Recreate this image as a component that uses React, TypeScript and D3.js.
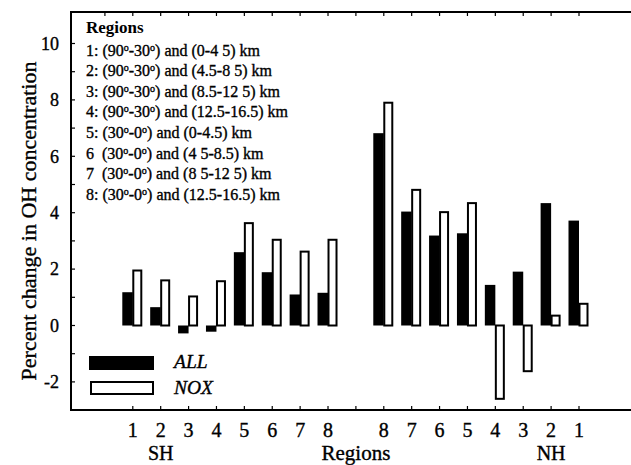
import React from 'react';
import * as d3 from 'd3';

const shRegions = ['1', '2', '3', '4', '5', '6', '7', '8'];
const nhRegions = ['8', '7', '6', '5', '4', '3', '2', '1'];
const allSH = [1.18, 0.65, -0.28, -0.22, 2.6, 1.89, 1.1, 1.16];
const noxSH = [1.95, 1.6, 1.03, 1.57, 3.63, 3.04, 2.62, 3.04];
const allNH = [6.82, 4.04, 3.19, 3.27, 1.44, 1.91, 4.34, 3.72];
const noxNH = [7.9, 4.81, 4.02, 4.34, -2.6, -1.62, 0.35, 0.77];
const yTicks = [-2, 0, 2, 4, 6, 8, 10];
const regionLines = [
  '1: (90°-30°) and (0-4 5) km',
  '2: (90°-30°) and (4.5-8 5) km',
  '3: (90°-30°) and (8.5-12 5) km',
  '4: (90°-30°) and (12.5-16.5) km',
  '5: (30°-0°) and (0-4.5) km',
  '6  (30°-0°) and (4 5-8.5) km',
  '7  (30°-0°) and (8 5-12 5) km',
  '8: (30°-0°) and (12.5-16.5) km',
];

const W = 631;
const H = 465;
const font = 'Liberation Serif, DejaVu Serif, serif';

// one slot per region, with an empty slot between SH and NH
const slots = [
  ...shRegions.map((r, i) => ({ label: r, all: allSH[i], nox: noxSH[i] })),
  null,
  ...nhRegions.map((r, i) => ({ label: r, all: allNH[i], nox: noxNH[i] })),
];

const x = d3.scaleLinear().domain([0, 16]).range([132.8, 579]);
const y = d3.scaleLinear().domain([-2, 10]).range([381.9, 43.5]);

const frame = { left: 71, top: 12, bottom: 410 };
const ink = { stroke: '#000', strokeWidth: 0.35 };

function degreeText(line: string) {
  const parts = line.split('°');
  const out: React.ReactNode[] = [];
  parts.forEach((p, i) => {
    out.push(<tspan key={'p' + i} dy={i === 0 ? 0 : 5}>{p}</tspan>);
    if (i < parts.length - 1) {
      out.push(<tspan key={'d' + i} dy={-5} fontSize={10}>o</tspan>);
    }
  });
  return out;
}

export default function App() {
  const barW = 10.5;
  return (
    <svg width={W} height={H} style={{ position: 'absolute', left: 0, top: 0, background: '#fff', fontFamily: font }}>
      {/* frame */}
      <line x1={frame.left} x2={W} y1={frame.top} y2={frame.top} stroke="#000" strokeWidth={2} />
      <line x1={frame.left} x2={frame.left} y1={frame.top - 1} y2={frame.bottom + 1} stroke="#000" strokeWidth={2} />
      <line x1={frame.left} x2={W} y1={frame.bottom} y2={frame.bottom} stroke="#000" strokeWidth={2} />

      {/* y ticks */}
      {d3.range(-2, 11).map(v => (
        <line key={'yt' + v} x1={frame.left} x2={frame.left + 4} y1={y(v)} y2={y(v)} stroke="#000" strokeWidth={1.2} />
      ))}
      {yTicks.map(v => (
        <text key={'yl' + v} x={59} y={y(v)} dy="0.35em" textAnchor="end" fontSize={18} {...ink}>{v}</text>
      ))}

      {/* x ticks, bottom and top */}
      {d3.range(0, 17).map(k => (
        <line key={'xb' + k} x1={x(k)} x2={x(k)} y1={frame.bottom} y2={frame.bottom - 4} stroke="#000" strokeWidth={1.2} />
      ))}
      {d3.range(-1, 17).map(k => (
        <line key={'xt' + k} x1={x(k)} x2={x(k)} y1={frame.top} y2={frame.top + 4} stroke="#000" strokeWidth={1.2} />
      ))}

      {/* bars */}
      {slots.map((s, k) => s && (
        <g key={'b' + k}>
          <rect x={x(k) - barW} width={barW} y={Math.min(y(s.all), y(0))}
            height={Math.abs(y(s.all) - y(0))} fill="#000" />
          <rect x={x(k) + 0.5} width={8} y={Math.min(y(s.nox), y(0))}
            height={Math.abs(y(s.nox) - y(0))} fill="#fff" stroke="#000" strokeWidth={2} />
        </g>
      ))}

      {/* x labels */}
      {slots.map((s, k) => s && (
        <text key={'xl' + k} x={x(k)} y={437} textAnchor="middle" fontSize={20} {...ink}>{s.label}</text>
      ))}
      <text x={x(1)} y={460} textAnchor="middle" fontSize={20} {...ink}>SH</text>
      <text x={x(8)} y={460} textAnchor="middle" fontSize={21} {...ink}>Regions</text>
      <text x={x(15)} y={460} textAnchor="middle" fontSize={20} {...ink}>NH</text>

      {/* y title */}
      <text transform="translate(36,221) rotate(-90)" textAnchor="middle" fontSize={22} {...ink}>
        Percent change in OH concentration
      </text>

      {/* regions note */}
      <text x={86} y={33} fontSize={17} fontWeight="bold">Regions</text>
      {regionLines.map((l, i) => (
        <text key={'rl' + i} x={86} y={55.5 + i * 20.6} fontSize={16} style={{ whiteSpace: 'pre' }} {...ink}>
          {degreeText(l)}
        </text>
      ))}

      {/* legend */}
      <rect x={89} y={356} width={65} height={14} fill="#000" />
      <text x={174} y={368} fontSize={19.5} fontStyle="italic" {...ink}>ALL</text>
      <rect x={91} y={382} width={62} height={12} fill="#fff" stroke="#000" strokeWidth={2} />
      <text x={174} y={394} fontSize={19.5} fontStyle="italic" {...ink}>NOX</text>
    </svg>
  );
}
